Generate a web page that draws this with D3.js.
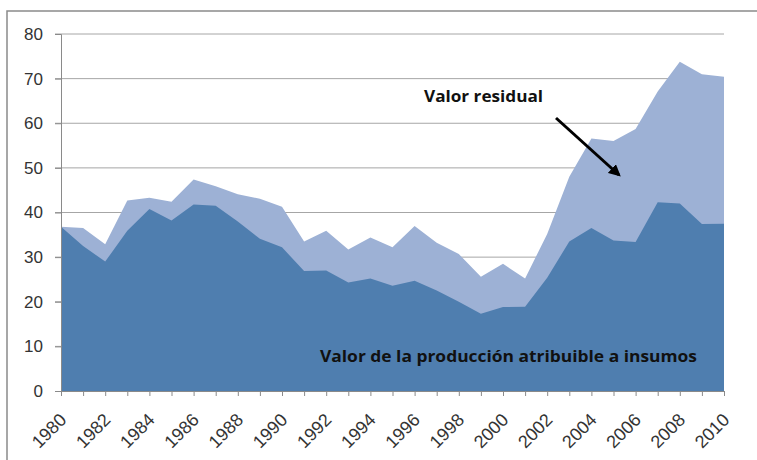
<!DOCTYPE html>
<html>
<head>
<meta charset="utf-8">
<script src="https://cdn.jsdelivr.net/npm/d3@7"></script>
<style>
    body { margin: 0; background: #fff; }
    svg { display: block; font-family: "Open Sans", "DejaVu Sans", sans-serif; }
</style>
</head>
<body>
<div id="chart"></div>
<script>
// values
var years = d3.range(1980, 2011);
var total = [36.8, 36.5, 32.9, 42.7, 43.3, 42.4, 47.4, 45.9, 44.1, 43.1,
             41.3, 33.5, 35.9, 31.7, 34.4, 32.2, 37.0, 33.2, 30.7, 25.6,
             28.5, 25.2, 35.2, 48.0, 56.6, 56.0, 58.7, 67.1, 73.8, 71.0, 70.4];
var insumos = [36.8, 32.5, 29.0, 35.9, 40.8, 38.2, 41.8, 41.5, 38.0, 34.1,
               32.2, 26.9, 27.0, 24.3, 25.2, 23.6, 24.7, 22.5, 20.0, 17.3,
               18.8, 18.9, 25.4, 33.5, 36.5, 33.7, 33.4, 42.3, 42.0, 37.4, 37.5];
var yTicks = [0, 10, 20, 30, 40, 50, 60, 70, 80];

var width = 757, height = 460;
var svg = d3.select("#chart").append("svg")
    .attr("width", width)
    .attr("height", height);

// outer frame of the chart (runs off the right and bottom edge)
svg.append("rect")
    .attr("x", 7).attr("y", 11)
    .attr("width", 800).attr("height", 500)
    .attr("fill", "none")
    .attr("stroke", "#8a8a8a")
    .attr("stroke-width", 1.5);

var x = d3.scaleLinear().domain([1980, 2010]).range([61, 724]);
var y = d3.scaleLinear().domain([0, 80]).range([391, 34]);

// gridlines
svg.append("g")
    .selectAll("line")
    .data(yTicks.filter(function(d) { return d > 0; }))
    .enter()
    .append("line")
    .attr("x1", 55).attr("x2", 724)
    .attr("y1", function(d) { return y(d); })
    .attr("y2", function(d) { return y(d); })
    .attr("stroke", "#a6a6a6")
    .attr("stroke-width", 1);

var rows = years.map(function(yr, i) {
    return { year: yr, total: total[i], insumos: insumos[i] };
});

// total area (residual shows above insumos)
svg.append("path")
    .datum(rows)
    .attr("fill", "#9db1d5")
    .attr("d", d3.area()
        .x(function(d) { return x(d.year); })
        .y0(y(0))
        .y1(function(d) { return y(d.total); }));

svg.append("path")
    .datum(rows)
    .attr("fill", "#4f7eaf")
    .attr("d", d3.area()
        .x(function(d) { return x(d.year); })
        .y0(y(0))
        .y1(function(d) { return y(d.insumos); }));

// y axis
var yAxis = svg.append("g")
    .attr("transform", "translate(61,0)")
    .call(d3.axisLeft(y).tickValues(yTicks).tickSize(6).tickPadding(12));
yAxis.select(".domain").attr("stroke", "#8a8a8a");
yAxis.selectAll(".tick line").attr("stroke", "#8a8a8a");
yAxis.selectAll("text")
    .attr("fill", "#333")
    .style("font-size", "17px");

// x axis: tick for every year, label every second year
var xAxis = svg.append("g")
    .attr("transform", "translate(0," + y(0) + ")")
    .call(d3.axisBottom(x).tickValues(years).tickSize(5)
        .tickFormat(function(d) { return d % 2 === 0 ? d : ""; }));
xAxis.select(".domain").attr("stroke", "#8a8a8a");
xAxis.selectAll(".tick line").attr("stroke", "#8a8a8a");
xAxis.selectAll("text")
    .attr("fill", "#333")
    .style("font-size", "18px")
    .attr("text-anchor", "end")
    .attr("x", 0).attr("y", 0)
    .attr("dx", 0).attr("dy", 0)
    .attr("transform", "translate(6,30) rotate(-45)");

// annotations
svg.append("text")
    .attr("x", 424).attr("y", 102)
    .attr("textLength", 119)
    .attr("lengthAdjust", "spacingAndGlyphs")
    .style("font-size", "16px")
    .style("font-weight", "bold")
    .attr("fill", "#111")
    .text("Valor residual");

svg.append("text")
    .attr("x", 320).attr("y", 362)
    .attr("textLength", 377)
    .attr("lengthAdjust", "spacingAndGlyphs")
    .style("font-size", "16px")
    .style("font-weight", "bold")
    .attr("fill", "#111")
    .text("Valor de la producción atribuible a insumos");

svg.append("defs").append("marker")
    .attr("id", "arrowhead")
    .attr("viewBox", "0 0 10 10")
    .attr("refX", 8).attr("refY", 5)
    .attr("markerWidth", 4).attr("markerHeight", 4)
    .attr("orient", "auto")
    .append("path")
    .attr("d", "M0,0 L10,5 L0,10 z")
    .attr("fill", "#000");

svg.append("line")
    .attr("x1", 556).attr("y1", 118)
    .attr("x2", 619).attr("y2", 175)
    .attr("stroke", "#000")
    .attr("stroke-width", 3)
    .attr("marker-end", "url(#arrowhead)");
</script>
</body>
</html>
